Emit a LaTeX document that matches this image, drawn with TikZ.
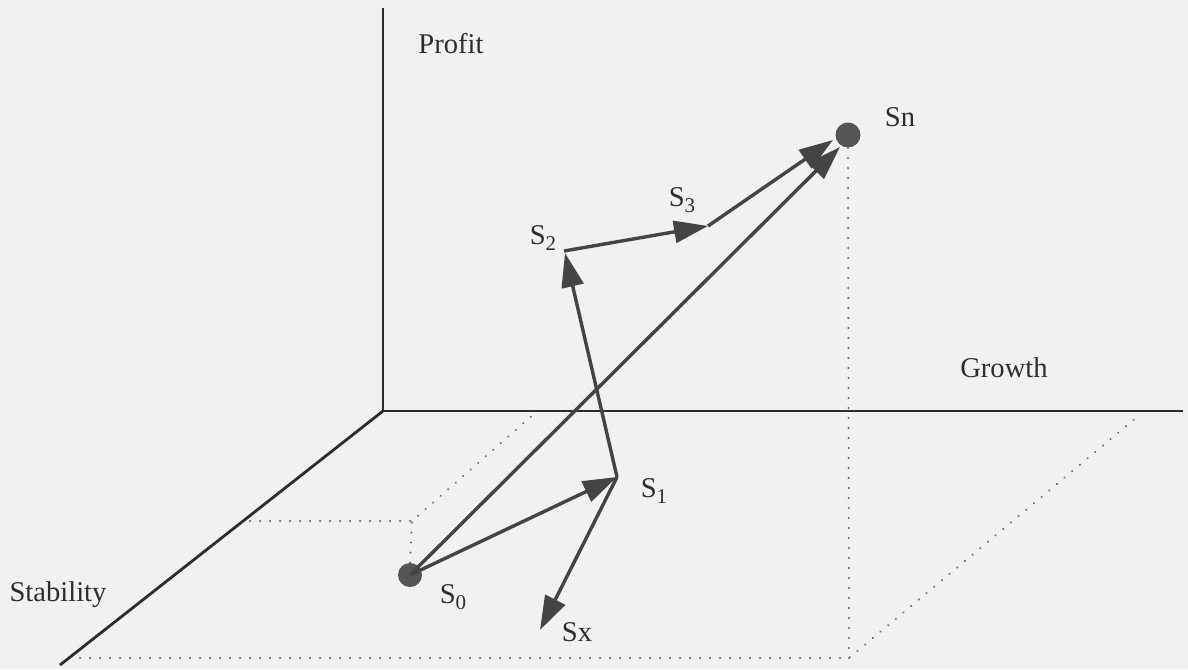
\documentclass[tikz,border=0pt]{standalone}
\usepackage{fontspec}
\setmainfont{Liberation Serif}
\usetikzlibrary{arrows.meta}
\definecolor{bgc}{RGB}{241,241,241}
\definecolor{axc}{RGB}{45,45,45}
\definecolor{arc}{RGB}{68,68,68}
\definecolor{dotc}{RGB}{85,85,85}
\definecolor{txc}{RGB}{45,45,45}
\definecolor{dtc}{RGB}{110,110,110}
\newcommand\lowsub[1]{\raisebox{-0.45ex}{\fontsize{10.5}{10.5}\selectfont #1}}
\begin{document}
\begin{tikzpicture}[x=0.5pt,y=-0.5pt,
  axis/.style={draw=axc,line width=1.4pt},
  vec/.style={draw=arc,line width=1.7pt,-{Triangle[length=17pt,width=11pt]}},
  guide/.style={draw=dtc,line width=1.1pt,line cap=round,dash pattern=on 0.1pt off 4.9pt},
  statept/.style={circle,fill=dotc,inner sep=0pt,minimum size=12pt},
  lbl/.style={text=txc,font=\fontsize{14.3}{16}\selectfont,inner sep=0pt}]
\fill[bgc] (0,0) rectangle (1188,669);
\useasboundingbox (0,0) rectangle (1188,669);
% axes
\coordinate (o) at (383,411);
\coordinate (ptop) at (383,8);
\coordinate (gend) at (1183,411);
\coordinate (send) at (60,665);
\draw[axis] (ptop) -- (o) -- (gend);
\draw[axis] (o) -- (send);
% guide points
\coordinate (c0) at (412,521);
\coordinate (cl) at (250,521);
\coordinate (cg) at (535,413);
\coordinate (bl) at (80,658);
\coordinate (br) at (849,658);
\coordinate (tr) at (1137,417);
% states
\node[statept] (s0) at (410,575) {};
\node[statept,minimum size=12.5pt] (sn) at (848,135) {};
\coordinate (s1) at (617,477);
\coordinate (s2) at (564,251);
\coordinate (s2t) at (565,253);
\coordinate (s3) at (708,226);
\coordinate (sx) at (540,630);
\coordinate (sna) at (833,140);
\coordinate (snb) at (840,147);
% dotted guides
\draw[guide] (s0.north) -- (c0);
\draw[guide] (cl) -- (c0) -- (cg);
\draw[guide] (sn.south) -- (br);
\draw[guide] (bl) -- (br) -- (tr);
% vectors
\draw[vec] (s0.center) -- (s1);
\draw[vec] (s1) -- (s2t);
\draw[vec] (s1) -- (sx);
\draw[vec] (s2) -- (s3);
\draw[vec] (s3) -- (sna);
\draw[vec] (s0.center) -- (snb);
% labels
\node[lbl] (lprofit) at (451,44) {Profit};
\node[lbl] (lgrowth) at (1004,368) {Growth};
\node[lbl] (lstab) at (58,595) {Stability};
\node[lbl] (l0) at (453,597) {S\lowsub{0}};
\node[lbl] (l1) at (654,491) {S\lowsub{1}};
\node[lbl] (l2) at (543,238) {S\lowsub{2}};
\node[lbl] (l3) at (682,200) {S\lowsub{3}};
\node[lbl] (ln) at (900,117) {Sn};
\node[lbl] (lx) at (577,632) {Sx};
\end{tikzpicture}
\end{document}
